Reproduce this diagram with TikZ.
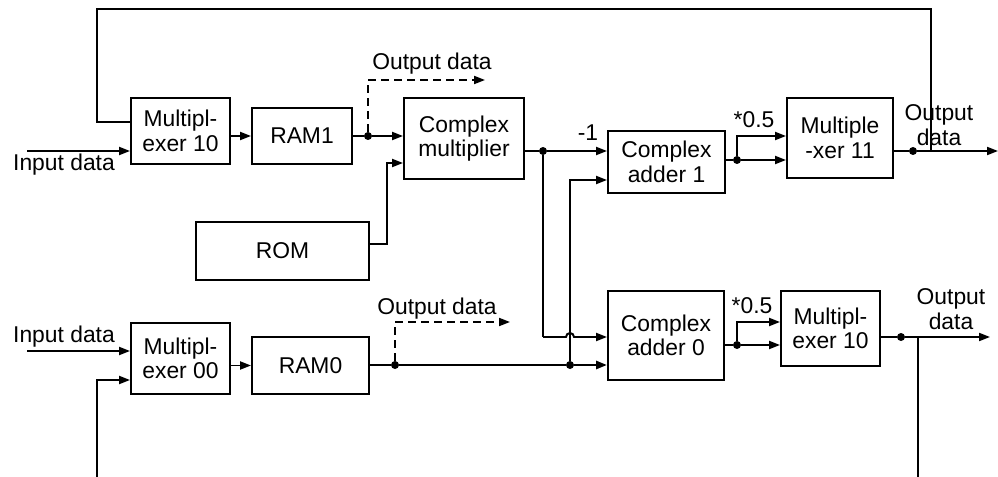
\documentclass[tikz,border=0pt]{standalone}
\usepackage{fontspec}
\setmainfont{Liberation Sans}
\usetikzlibrary{arrows.meta}
\tikzset{
  blk/.style={draw,line width=1.1pt,align=center,inner sep=0pt,font=\fontsize{13}{14}\selectfont},
  lbl/.style={align=center,inner sep=0pt,font=\fontsize{13}{14}\selectfont},
  jdot/.style={circle,fill,inner sep=0pt,minimum size=1.6mm},
  wire/.style={line width=1.1pt},
  thk/.style={line width=1.7pt},
  arr/.style={wire,-{Triangle[length=2.2mm,width=1.6mm]}},
  dsh/.style={arr,dash pattern=on 1.6mm off 1mm}
}

\begin{document}
\begin{tikzpicture}[x=0.2mm,y=-0.2mm]
\useasboundingbox (0,0) rectangle (998,477);
\node[blk,minimum width=19.8mm,minimum height=13.2mm] (mux10) at (180.5,131) {Multipl-\\exer 10};
\node[blk,minimum width=20mm,minimum height=11.2mm] (ram1) at (302,136) {RAM1};
\node[blk,minimum width=24mm,minimum height=16.2mm] (cmul) at (464,138.5) {Complex\\multiplier};
\node[blk,minimum width=34.6mm,minimum height=11.6mm] (rom) at (282.5,251) {ROM};
\node[blk,minimum width=23.4mm,minimum height=12.4mm] (add1) at (666.5,162) {Complex\\adder 1};
\node[blk,minimum width=21.2mm,minimum height=16mm] (mux11) at (840,138) {Multiple\\-xer 11};
\node[blk,minimum width=19.8mm,minimum height=14.2mm] (mux00) at (180.5,358.5) {Multipl-\\exer 00};
\node[blk,minimum width=23.4mm,minimum height=11.4mm] (ram0) at (310.5,365.5) {RAM0};
\node[blk,minimum width=23.2mm,minimum height=17.8mm] (add0) at (666,335.5) {Complex\\adder 0};
\node[blk,minimum width=19.8mm,minimum height=15mm] (mux10b) at (830.5,328.5) {Multipl-\\exer 10};

\node[jdot] (d1) at (368,136) {};
\node[jdot] (d2) at (543,151) {};
\node[jdot] (d3) at (570,365) {};
\node[jdot] (d4) at (395,365) {};
\node[jdot] (d5) at (737,160) {};
\node[jdot] (d6) at (913,151) {};
\node[jdot] (d7) at (737,345) {};
\node[jdot] (d8) at (901,337) {};

\node[lbl] (in1txt) at (64,165) {Input data};
\node[lbl] (in0txt) at (64,337) {Input data};
\node[lbl] (o1txt) at (432,64) {Output data};
\node[lbl] (o0txt) at (437,309) {Output data};
\node[lbl] (neg) at (588,133) {-1};
\node[lbl] (half1) at (754,120) {*0.5};
\node[lbl] (half0) at (752,306) {*0.5};
\node[lbl] (out1txt) at (939,125) {Output\\data};
\node[lbl] (out0txt) at (951,309) {Output\\data};

\coordinate (in1) at (27,151);
\coordinate (in0) at (27,351);
\coordinate (fbR) at (931,9);
\coordinate (fbL) at (97,9);
\coordinate (fbM) at (97,122);
\coordinate (o1) at (485,80);
\coordinate (o0) at (510,322);
\coordinate (rq) at (387,244);
\coordinate (rb) at (387,163);
\coordinate (h1) at (543,337);
\coordinate (mid) at (473,365);
\coordinate (a1in) at (570,180);
\coordinate (h5) at (737,136);
\coordinate (h7) at (737,322);
\coordinate (out1) at (998,151);
\coordinate (out0) at (990,337);
\coordinate (fb0) at (918,477);
\coordinate (fb0L) at (97,477);
\coordinate (m00in) at (97,380);

\draw[arr] (in1) -- (in1 -| mux10.west);
\draw[wire] (fbR |- d6) -- (fbR) -- (fbL) -- (fbM) -- (fbM -| mux10.west);
\draw[arr] (mux10.east |- ram1.west) -- (ram1.west);
\draw[wire] (ram1.east |- d1) -- (d1);
\draw[arr] (d1) -- (d1 -| cmul.west);
\draw[dsh] (d1) |- (o1);
\draw[arr] (rom.east |- rq) -- (rq) -- (rb) -- (rb -| cmul.west);
\draw[wire] (cmul.east |- d2) -- (d2);
\draw[arr] (d2) -- (d2 -| add1.west);
\draw[thk] (d2) -- (h1);
\draw[arr] (h1) -- ([xshift=-0.8mm]h1 -| d3)
  arc[start angle=180,end angle=0,radius=0.8mm] -- (h1 -| add0.west);
\draw[arr] (d3) -- (a1in) -- (a1in -| add1.west);
\draw[wire] (ram0.east |- d4) -- (d4) -- (mid);
\draw[thk] (mid) -- (d3);
\draw[arr,thk] (d3) -- (d3 -| add0.west);
\draw[dsh] (d4) |- (o0);
\draw[wire] (add1.east |- d5) -- (d5);
\draw[arr] (d5) -- (d5 -| mux11.west);
\draw[arr] (d5) -- (h5) -- (h5 -| mux11.west);
\draw[wire] (mux11.east |- d6) -- (d6);
\draw[arr] (d6) -- (out1);
\draw[wire] (add0.east |- d7) -- (d7);
\draw[arr] (d7) -- (d7 -| mux10b.west);
\draw[arr] (d7) -- (h7) -- (h7 -| mux10b.west);
\draw[wire] (mux10b.east |- d8) -- (d8);
\draw[arr] (d8) -- (out0);
\draw[wire] (fb0 |- d8) -- (fb0);
\draw[arr] (in0) -- (in0 -| mux00.west);
\draw[arr] (fb0L) -- (m00in) -- (m00in -| mux00.west);
\draw[arr] (mux00.east |- ram0.west) -- (ram0.west);
\end{tikzpicture}
\end{document}
